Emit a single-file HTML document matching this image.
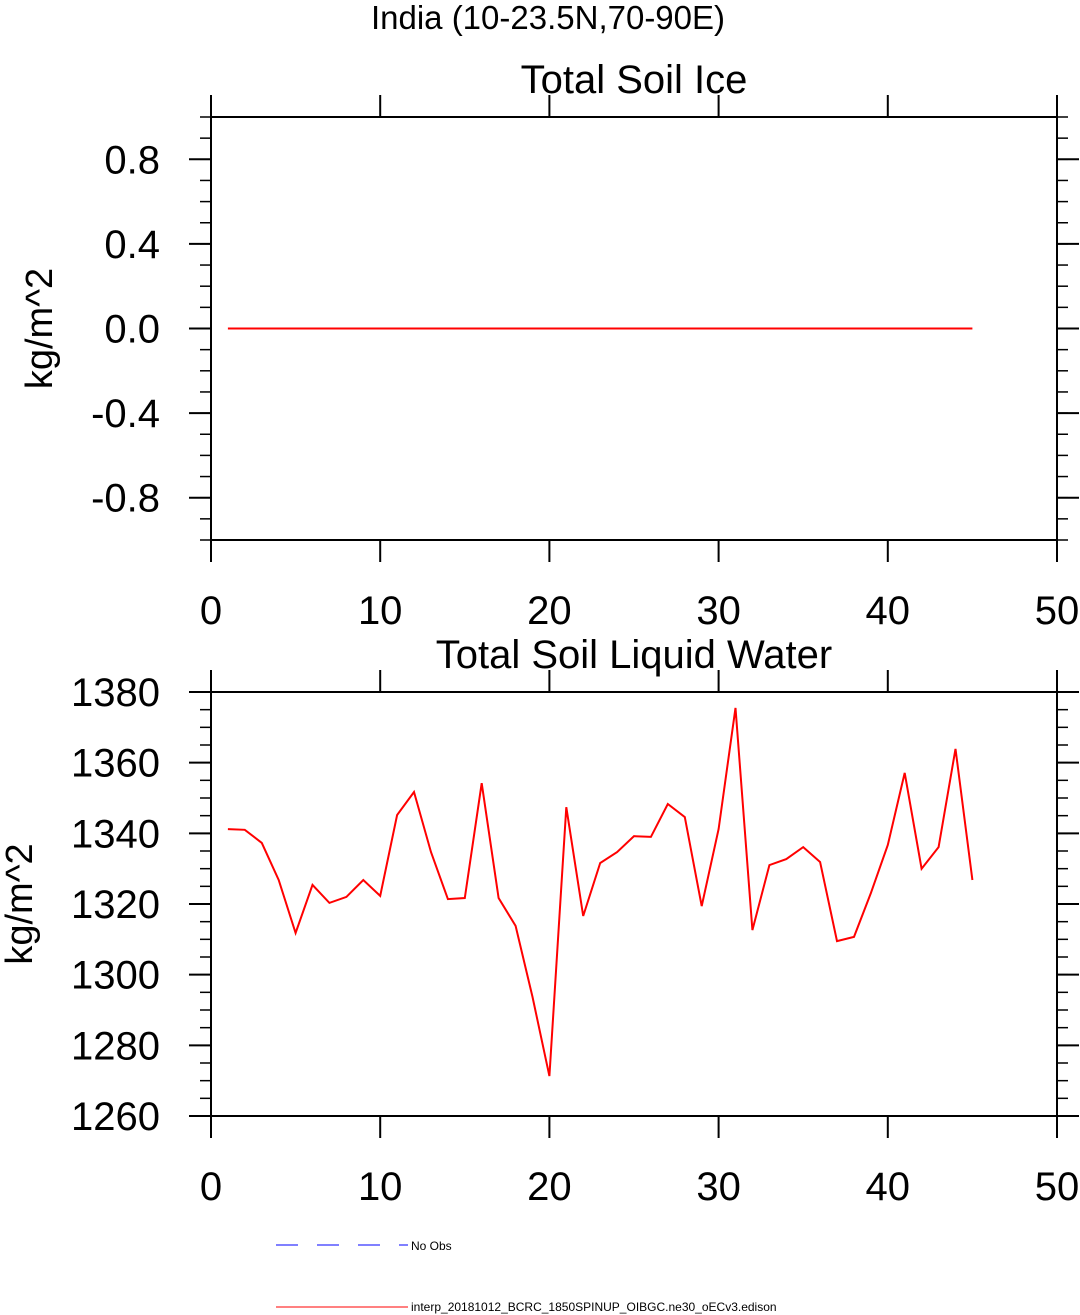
<!DOCTYPE html>
<html><head><meta charset="utf-8"><style>
body{margin:0;background:#fff}
svg{display:block;font-family:"Liberation Sans",sans-serif}
</style></head><body>
<svg id="c" width="1080" height="1315">
<text x="548" y="29" font-size="33" text-anchor="middle">India (10-23.5N,70-90E)</text>
</svg>
<script>
const xTicks=[0,10,20,30,40,50];
const iceTicks=[-0.8,-0.4,0.0,0.4,0.8];
const iceTickLabels=["-0.8","-0.4","0.0","0.4","0.8"];
const waterTicks=[1260,1280,1300,1320,1340,1360,1380];
const days=[];for(let i=1;i<=45;i++)days.push(i);
const iceValues=new Array(45).fill(0);
const waterValues=[1341.2,1341,1337.3,1326.8,1311.8,1325.4,1320.3,1322,1326.8,1322.3,1345.2,1351.7,1334.7,1321.4,1321.7,1354.2,1321.7,1313.8,1293.7,1271.3,1347.4,1316.6,1331.6,1334.7,1339.2,1339,1348.3,1344.6,1319.4,1341.2,1375.5,1312.6,1331,1332.7,1336.1,1331.9,1309.5,1310.7,1323.1,1336.7,1357.1,1330,1336.1,1363.9,1326.8];

const svg=document.getElementById('c');
const NS='http://www.w3.org/2000/svg';
function mk(t,a,p){const e=document.createElementNS(NS,t);for(const k in a)e.setAttribute(k,a[k]);(p||svg).appendChild(e);return e;}
const L=211,R=1057;
function panel(name,top,bot,ymin,ymax,yt,ytl,minorStep,title,ylabelX,vals){
  const g=mk('g',{});
  
  
  const sx=v=>L+(v-0)/(50-0)*(R-L);
  const sy=v=>bot-(v-ymin)/(ymax-ymin)*(bot-top);
  const box=mk('rect',{x:L,y:top,width:R-L,height:bot-top,fill:'none',stroke:'#000','stroke-width':2},g);
  
  
  xTicks.forEach(v=>{
    const x=sx(v);
    mk('line',{x1:x,x2:x,y1:bot,y2:bot+22,stroke:'#000','stroke-width':2},g);
    mk('line',{x1:x,x2:x,y1:top,y2:top-22,stroke:'#000','stroke-width':2},g);
    const t=mk('text',{x:x,y:bot+84,'font-size':40,'text-anchor':'middle'},g);
    t.textContent=v;
    
    
  });
  for(let v=ymin;v<=ymax+1e-9;v+=minorStep){
    const y=sy(v);
    mk('line',{x1:L,x2:L-11,y1:y,y2:y,stroke:'#000','stroke-width':1.5},g);
    mk('line',{x1:R,x2:R+11,y1:y,y2:y,stroke:'#000','stroke-width':1.5},g);
  }
  yt.forEach((v,i)=>{
    const y=sy(v);
    mk('line',{x1:L,x2:L-22,y1:y,y2:y,stroke:'#000','stroke-width':2},g);
    mk('line',{x1:R,x2:R+22,y1:y,y2:y,stroke:'#000','stroke-width':2},g);
    const t=mk('text',{x:160,y:y+14,'font-size':40,'text-anchor':'end'},g);
    t.textContent=ytl?ytl[i]:v;
    
    
  });
  const tt=mk('text',{x:634,y:top-24,'font-size':40,'text-anchor':'middle'},g);
  tt.textContent=title;
  
  
  const yl=mk('text',{x:ylabelX,y:(top+bot)/2,'font-size':38,'text-anchor':'middle',transform:`rotate(-90 ${ylabelX} ${(top+bot)/2})`},g);
  yl.textContent='kg/m^2';
  
  
  const pts=days.map((d,i)=>sx(d).toFixed(1)+','+sy(vals[i]).toFixed(1)).join(' ');
  const pl=mk('polyline',{points:pts,fill:'none',stroke:'#f00','stroke-width':2},g);
  
  
}
panel('soil-ice-panel',117,540,-1,1,iceTicks,iceTickLabels,0.1,'Total Soil Ice',52,iceValues);
panel('soil-liquid-panel',692,1116,1260,1380,waterTicks,null,5,'Total Soil Liquid Water',32,waterValues);

const lg=mk('g',{});


const l1=mk('line',{x1:276,x2:408,y1:1245,y2:1245,stroke:'#00f','stroke-width':1,'stroke-dasharray':'22,19'},lg);


const t1=mk('text',{x:411,y:1250,'font-size':12},lg);t1.textContent='No Obs';


const l2=mk('line',{x1:276,x2:408,y1:1307,y2:1307,stroke:'#f00','stroke-width':1},lg);


const t2=mk('text',{x:411,y:1311,'font-size':12},lg);t2.textContent='interp_20181012_BCRC_1850SPINUP_OIBGC.ne30_oECv3.edison';


</script>
</body></html>
